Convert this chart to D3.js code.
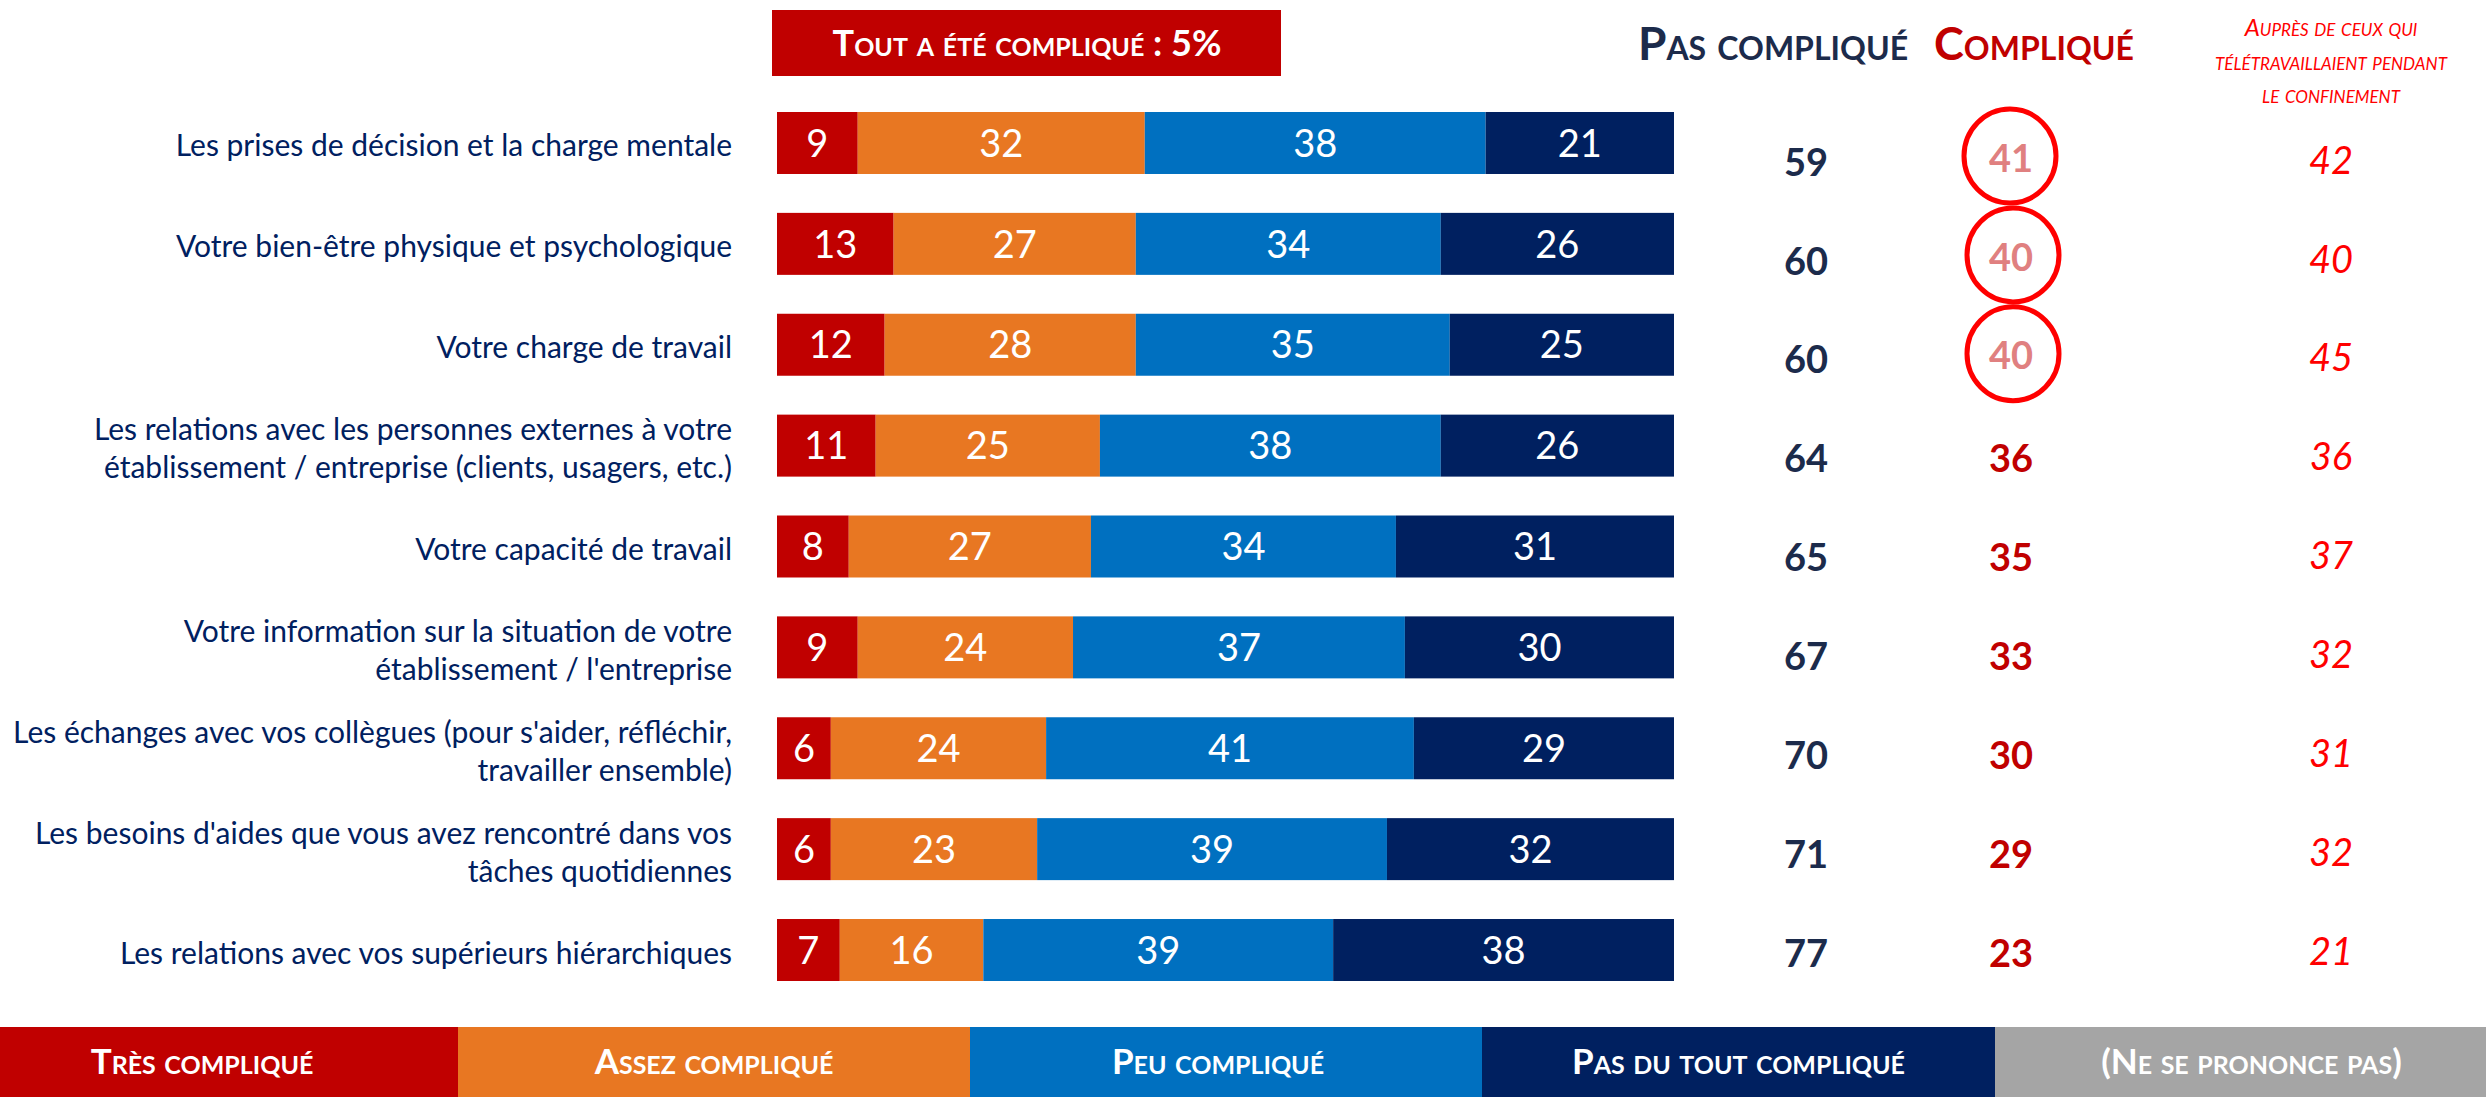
<!DOCTYPE html>
<html>
<head>
<meta charset="utf-8">
<script src="https://cdn.jsdelivr.net/npm/d3@7"></script>
<style>
  html, body { margin: 0; padding: 0; background: #fff; }
  svg { display: block; }
  text { font-family: Lato, "Open Sans", sans-serif; }
  .sc { font-variant: small-caps; }
</style>
</head>
<body>
<svg id="chart" width="2486" height="1097"></svg>
<script>
// ---------- DATA ----------
const categories = [
  ["Les prises de décision et la charge mentale"],
  ["Votre bien-être physique et psychologique"],
  ["Votre charge de travail"],
  ["Les relations avec les personnes externes à votre", "établissement / entreprise (clients, usagers, etc.)"],
  ["Votre capacité de travail"],
  ["Votre information sur la situation de votre", "établissement / l'entreprise"],
  ["Les échanges avec vos collègues (pour s'aider, réfléchir,", "travailler ensemble)"],
  ["Les besoins d'aides que vous avez rencontré dans vos", "tâches quotidiennes"],
  ["Les relations avec vos supérieurs hiérarchiques"]
];
const seriesNames = ["Très compliqué", "Assez compliqué", "Peu compliqué", "Pas du tout compliqué"];
const tresComplique   = [9, 13, 12, 11, 8, 9, 6, 6, 7];
const assezComplique  = [32, 27, 28, 25, 27, 24, 24, 23, 16];
const peuComplique    = [38, 34, 35, 38, 34, 37, 41, 39, 39];
const pasDuTout       = [21, 26, 25, 26, 31, 30, 29, 32, 38];
const pasCompliqueTotal = [59, 60, 60, 64, 65, 67, 70, 71, 77];
const compliqueTotal    = [41, 40, 40, 36, 35, 33, 30, 29, 23];
const teletravail       = [42, 40, 45, 36, 37, 32, 31, 32, 21];
const circledRows = [0, 1, 2];
const legendLabels = ["Très compliqué", "Assez compliqué", "Peu compliqué", "Pas du tout compliqué", "(Ne se prononce pas)"];
const topBanner = "Tout a été compliqué : 5%";
const headerPas = "Pas compliqué";
const headerComp = "Compliqué";
const headerTele = ["Auprès de ceux qui", "télétravaillaient pendant", "le confinement"];

// ---------- STYLE ----------
const colors = ["#C00000", "#E87722", "#0070C0", "#002060"];
const legendColors = ["#C00000", "#E87722", "#0070C0", "#002060", "#A5A5A5"];
const legendEdges = [0, 458, 970, 1482, 1995, 2486];
const legendTextShift = [-27, 0, -8, 0, 11];
const W = 2486, H = 1097;
const svg = d3.select("#chart");

const series = [tresComplique, assezComplique, peuComplique, pasDuTout];
const rows = categories.map((c, i) => {
  const o = { i };
  seriesNames.forEach((s, k) => o[s] = series[k][i]);
  return o;
});
const stacked = d3.stack().keys(seriesNames)(rows);

const x = d3.scaleLinear().domain([0, 100]).range([777, 1674]);
const y = d3.scaleBand().domain(d3.range(categories.length)).range([112, 981]).paddingInner(0.3855).paddingOuter(0);
// value columns sit on their own rhythm
const yv = d3.scalePoint().domain(d3.range(categories.length)).range([162, 953]);

// ---------- BARS ----------
const g = svg.append("g");
stacked.forEach((layer, k) => {
  const lg = g.append("g");
  lg.selectAll("rect").data(layer).join("rect")
    .attr("x", d => x(d[0]))
    .attr("y", (d, i) => y(i))
    .attr("width", d => x(d[1]) - x(d[0]))
    .attr("height", y.bandwidth())
    .attr("fill", colors[k]);
  lg.selectAll("text").data(layer).join("text")
    .attr("x", d => (x(d[0]) + x(d[1])) / 2)
    .attr("y", (d, i) => y(i) + y.bandwidth() / 2)
    .attr("dy", "0.36em")
    .attr("text-anchor", "middle")
    .attr("fill", "#fff")
    .attr("font-size", 38)
    .text(d => d[1] - d[0]);
});

// ---------- CATEGORY LABELS ----------
const lineH = 38;
svg.append("g").selectAll("text").data(categories).join("text")
  .attr("text-anchor", "end")
  .attr("fill", "#002060")
  .attr("font-size", 30)
  .each(function (lines, i) {
    const cy = y(i) + y.bandwidth() / 2 + 3;
    const t = d3.select(this);
    lines.forEach((ln, j) => {
      t.append("tspan")
        .attr("x", 732)
        .attr("y", cy + (j - (lines.length - 1) / 2) * lineH)
        .attr("dy", "0.35em")
        .text(ln);
    });
  });

// ---------- VALUE COLUMNS ----------
const colPas = 1806, colComp = 2011, colTele = 2331;
svg.append("g").selectAll("text").data(pasCompliqueTotal).join("text")
  .attr("x", colPas).attr("y", (d, i) => yv(i)).attr("dy", "0.36em")
  .attr("text-anchor", "middle").attr("font-weight", 700).attr("font-size", 38)
  .attr("fill", "#1C2B4B").text(d => d);

svg.append("g").selectAll("text").data(compliqueTotal).join("text")
  .attr("x", colComp).attr("y", (d, i) => yv(i) - (circledRows.includes(i) ? 4 : 0)).attr("dy", "0.36em")
  .attr("text-anchor", "middle").attr("font-weight", 700).attr("font-size", 38)
  .attr("fill", (d, i) => circledRows.includes(i) ? "#E08080" : "#C00000").text(d => d);

svg.append("g").selectAll("ellipse").data(circledRows).join("ellipse")
  .attr("cx", (r, k) => colComp + (k === 0 ? -1 : 2))
  .attr("cy", r => yv(r) - 6)
  .attr("rx", 46).attr("ry", 47)
  .attr("fill", "none").attr("stroke", "#FF0000").attr("stroke-width", 5);

svg.append("g").selectAll("text").data(teletravail).join("text")
  .attr("x", colTele).attr("y", (d, i) => yv(i) - 2).attr("dy", "0.36em")
  .attr("text-anchor", "middle").attr("font-style", "italic").attr("font-size", 38)
  .attr("fill", "#FF0000").text(d => d);

// ---------- HEADERS ----------
svg.append("rect").attr("x", 772).attr("y", 10).attr("width", 509).attr("height", 66).attr("fill", "#C00000");
svg.append("text").attr("class", "sc").attr("x", 1027).attr("y", 43).attr("dy", "0.35em")
  .attr("text-anchor", "middle").attr("fill", "#fff").attr("font-weight", 700).attr("font-size", 36)
  .text(topBanner);

svg.append("text").attr("class", "sc").attr("x", 1773).attr("y", 44).attr("dy", "0.35em")
  .attr("text-anchor", "middle").attr("fill", "#1C2B4B").attr("font-weight", 700).attr("font-size", 46)
  .text(headerPas);
svg.append("text").attr("class", "sc").attr("x", 2034).attr("y", 44).attr("dy", "0.35em")
  .attr("text-anchor", "middle").attr("fill", "#C00000").attr("font-weight", 700).attr("font-size", 45)
  .text(headerComp);
svg.append("g").selectAll("text").data(headerTele).join("text")
  .attr("class", "sc")
  .attr("x", 2331).attr("y", (d, i) => 28 + i * 33.5).attr("dy", "0.35em")
  .attr("text-anchor", "middle").attr("fill", "#FF0000").attr("font-style", "italic").attr("font-size", 24)
  .text(d => d);

// ---------- LEGEND ----------
const lg = svg.append("g");
lg.selectAll("rect").data(legendLabels).join("rect")
  .attr("x", (d, i) => legendEdges[i]).attr("y", 1027)
  .attr("width", (d, i) => legendEdges[i + 1] - legendEdges[i]).attr("height", H - 1027)
  .attr("fill", (d, i) => legendColors[i]);
lg.selectAll("text").data(legendLabels).join("text")
  .attr("class", "sc")
  .attr("x", (d, i) => (legendEdges[i] + legendEdges[i + 1]) / 2 + legendTextShift[i]).attr("y", 1062).attr("dy", "0.35em")
  .attr("text-anchor", "middle").attr("fill", "#fff").attr("font-weight", 700).attr("font-size", 35)
  .text(d => d);
</script>
</body>
</html>
